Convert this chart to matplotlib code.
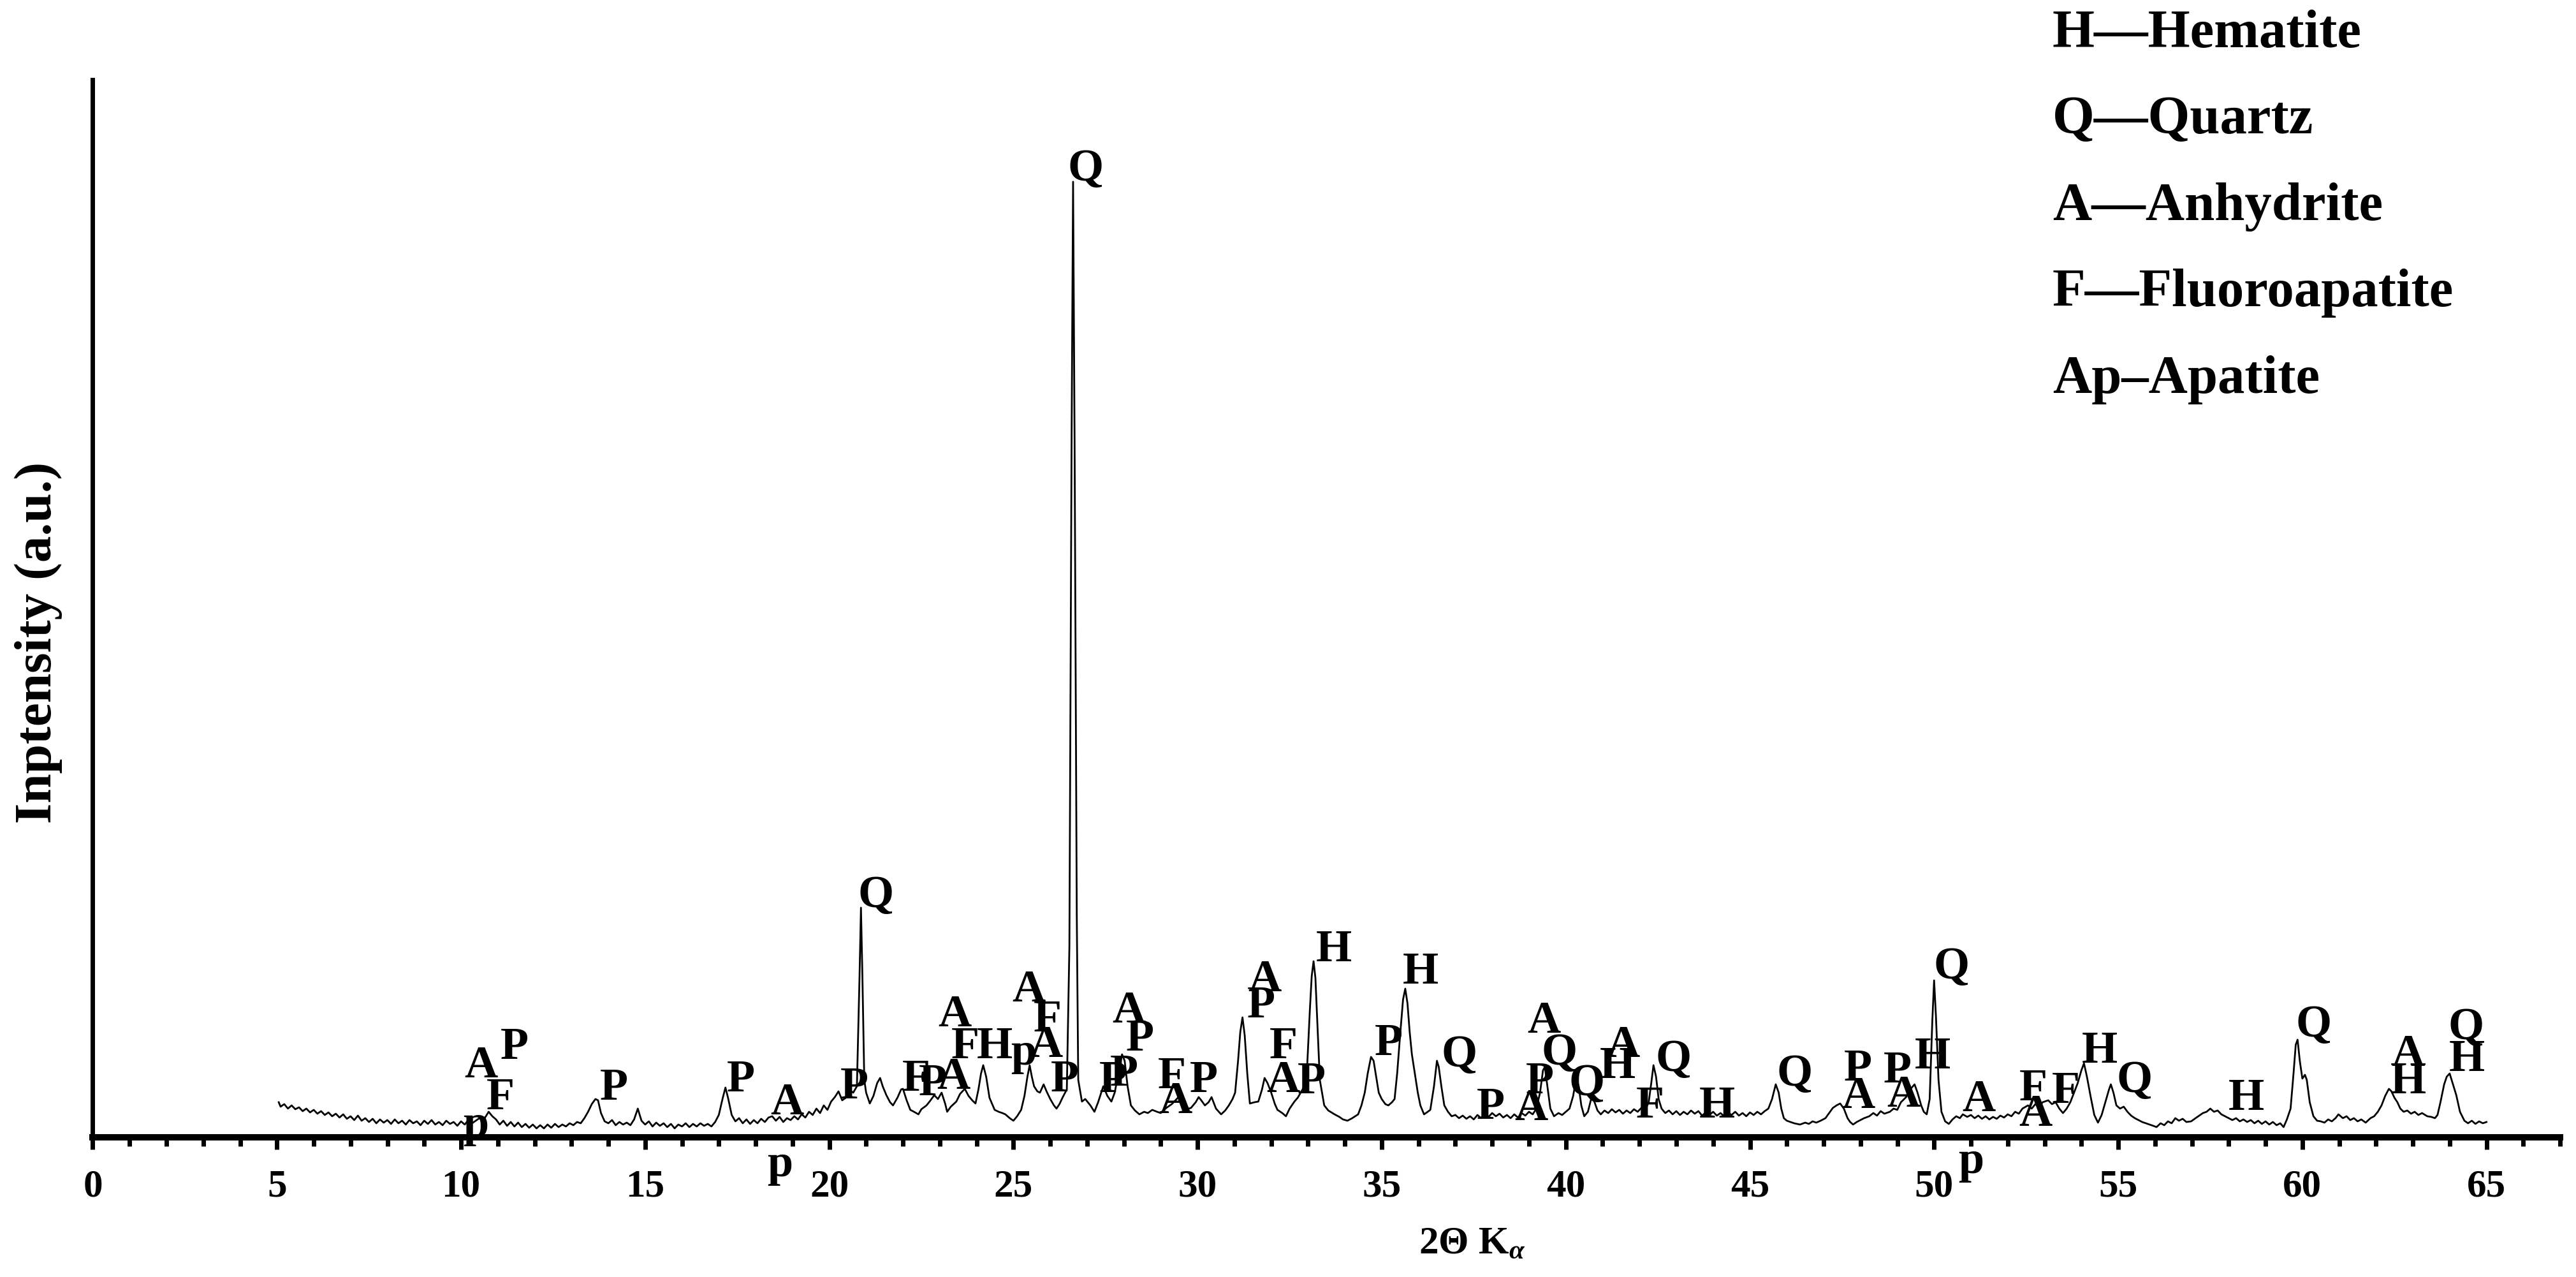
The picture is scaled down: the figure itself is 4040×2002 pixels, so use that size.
import matplotlib
matplotlib.use("Agg")
import matplotlib.pyplot as plt
from matplotlib.ticker import MultipleLocator

plt.rcParams['font.family'] = ['Liberation Serif', 'DejaVu Serif']
plt.rcParams['font.weight'] = 'bold'
plt.rcParams['mathtext.fontset'] = 'custom'
plt.rcParams['mathtext.rm'] = 'Liberation Serif:bold'
plt.rcParams['mathtext.it'] = 'Liberation Serif:bold:italic'
plt.rcParams['mathtext.bf'] = 'Liberation Serif:bold'

# XRD pattern: 2-theta (deg) and intensity (a.u.)
two_theta = [
    5.05, 5.1, 5.2, 5.3, 5.4, 5.5, 5.6, 5.7, 5.8, 5.9, 6.0, 6.1, 6.2, 6.3, 6.4, 6.5, 6.6, 6.7, 6.8, 6.9,
    7.0, 7.1, 7.2, 7.3, 7.4, 7.5, 7.6, 7.7, 7.8, 7.9, 8.0, 8.1, 8.2, 8.3, 8.4, 8.5, 8.6, 8.7, 8.8, 8.9,
    9.0, 9.1, 9.2, 9.3, 9.4, 9.5, 9.6, 9.7, 9.8, 9.9, 10.0, 10.1, 10.2, 10.3, 10.5, 10.6, 10.75, 10.85,
    10.95, 11.05, 11.15, 11.25, 11.35, 11.45, 11.55, 11.65, 11.75, 11.85, 11.95, 12.05, 12.15, 12.25,
    12.35, 12.45, 12.55, 12.65, 12.75, 12.85, 12.95, 13.05, 13.15, 13.25, 13.35, 13.45, 13.55, 13.65,
    13.72, 13.8, 13.9, 14.0, 14.1, 14.2, 14.3, 14.4, 14.5, 14.6, 14.7, 14.8, 14.9, 15.0, 15.1, 15.2,
    15.3, 15.4, 15.5, 15.6, 15.7, 15.8, 15.9, 16.0, 16.1, 16.2, 16.3, 16.4, 16.5, 16.6, 16.7, 16.8,
    16.9, 17.0, 17.1, 17.18, 17.25, 17.35, 17.45, 17.55, 17.65, 17.75, 17.85, 17.95, 18.05, 18.15,
    18.25, 18.35, 18.45, 18.55, 18.65, 18.75, 18.85, 18.95, 19.05, 19.15, 19.25, 19.35, 19.45, 19.55,
    19.65, 19.75, 19.85, 19.95, 20.05, 20.15, 20.25, 20.35, 20.45, 20.55, 20.65, 20.75, 20.82, 20.86,
    20.9, 20.95, 21.0, 21.1, 21.2, 21.3, 21.38, 21.45, 21.55, 21.65, 21.73, 21.85, 21.95, 22.0, 22.1,
    22.2, 22.3, 22.42, 22.5, 22.64, 22.75, 22.85, 22.95, 23.05, 23.15, 23.2, 23.3, 23.45, 23.55, 23.68,
    23.78, 23.88, 23.97, 24.05, 24.12, 24.18, 24.26, 24.35, 24.49, 24.6, 24.7, 24.78, 24.9, 25.0, 25.1,
    25.21, 25.3, 25.38, 25.44, 25.5, 25.56, 25.65, 25.72, 25.82, 25.9, 26.0, 26.1, 26.17, 26.25, 26.34,
    26.45, 26.52, 26.58, 26.62, 26.66, 26.72, 26.76, 26.86, 26.95, 27.09, 27.2, 27.3, 27.44, 27.55,
    27.66, 27.75, 27.85, 27.95, 28.02, 28.1, 28.19, 28.3, 28.42, 28.55, 28.65, 28.77, 28.9, 29.0, 29.15,
    29.3, 29.4, 29.48, 29.6, 29.7, 29.82, 29.95, 30.03, 30.1, 30.2, 30.3, 30.38, 30.5, 30.64, 30.75,
    30.85, 30.95, 31.02, 31.1, 31.16, 31.22, 31.28, 31.35, 31.42, 31.55, 31.65, 31.75, 31.82, 31.9,
    32.0, 32.1, 32.17, 32.3, 32.4, 32.5, 32.63, 32.72, 32.8, 32.9, 32.98, 33.05, 33.1, 33.15, 33.2,
    33.26, 33.32, 33.44, 33.55, 33.72, 33.85, 33.95, 34.07, 34.2, 34.36, 34.45, 34.54, 34.62, 34.71,
    34.78, 34.85, 34.92, 35.0, 35.1, 35.18, 35.28, 35.35, 35.42, 35.5, 35.58, 35.64, 35.7, 35.76, 35.82,
    35.9, 35.98, 36.05, 36.15, 36.25, 36.32, 36.42, 36.5, 36.55, 36.62, 36.7, 36.8, 36.9, 37.0, 37.1,
    37.2, 37.3, 37.4, 37.5, 37.6, 37.7, 37.8, 37.9, 38.0, 38.1, 38.2, 38.3, 38.4, 38.5, 38.6, 38.7,
    38.8, 38.9, 39.0, 39.1, 39.2, 39.3, 39.38, 39.43, 39.5, 39.58, 39.68, 39.8, 39.9, 40.0, 40.1, 40.2,
    40.28, 40.35, 40.42, 40.5, 40.6, 40.7, 40.78, 40.86, 40.95, 41.05, 41.15, 41.25, 41.35, 41.45,
    41.55, 41.65, 41.75, 41.85, 41.95, 42.05, 42.15, 42.25, 42.32, 42.38, 42.45, 42.52, 42.6, 42.7,
    42.8, 42.9, 43.0, 43.1, 43.2, 43.3, 43.4, 43.5, 43.6, 43.7, 43.8, 43.9, 44.0, 44.1, 44.2, 44.3,
    44.4, 44.5, 44.6, 44.7, 44.8, 44.9, 45.0, 45.1, 45.2, 45.3, 45.4, 45.5, 45.6, 45.7, 45.78, 45.85,
    45.92, 46.0, 46.1, 46.2, 46.36, 46.5, 46.6, 46.7, 46.8, 46.92, 47.05, 47.15, 47.25, 47.35, 47.45,
    47.55, 47.65, 47.72, 47.8, 47.9, 48.0, 48.1, 48.24, 48.35, 48.45, 48.55, 48.65, 48.8, 48.9, 49.0,
    49.1, 49.24, 49.35, 49.47, 49.55, 49.65, 49.72, 49.8, 49.88, 49.95, 50.0, 50.05, 50.12, 50.2, 50.3,
    50.4, 50.5, 50.6, 50.7, 50.78, 50.9, 51.0, 51.1, 51.2, 51.3, 51.4, 51.5, 51.6, 51.7, 51.8, 51.9,
    52.0, 52.1, 52.2, 52.3, 52.4, 52.55, 52.65, 52.75, 52.85, 52.95, 53.1, 53.2, 53.3, 53.4, 53.5,
    53.6, 53.7, 53.8, 53.9, 54.0, 54.07, 54.15, 54.25, 54.35, 54.45, 54.55, 54.65, 54.75, 54.8, 54.87,
    54.95, 55.05, 55.15, 55.25, 55.35, 55.45, 55.55, 55.65, 55.75, 55.85, 55.95, 56.04, 56.15, 56.25,
    56.35, 56.45, 56.55, 56.65, 56.75, 56.85, 56.98, 57.1, 57.2, 57.3, 57.4, 57.5, 57.6, 57.7, 57.8,
    57.9, 58.0, 58.1, 58.2, 58.3, 58.4, 58.5, 58.6, 58.7, 58.8, 58.9, 59.0, 59.1, 59.2, 59.3, 59.4,
    59.49, 59.58, 59.68, 59.76, 59.82, 59.87, 59.93, 60.0, 60.07, 60.12, 60.2, 60.3, 60.4, 60.5, 60.6,
    60.7, 60.8, 60.9, 60.98, 61.1, 61.2, 61.3, 61.4, 61.5, 61.6, 61.72, 61.85, 61.95, 62.05, 62.15,
    62.25, 62.35, 62.42, 62.5, 62.58, 62.66, 62.75, 62.85, 62.95, 63.05, 63.15, 63.25, 63.39, 63.5,
    63.6, 63.67, 63.75, 63.85, 63.92, 64.0, 64.08, 64.18, 64.28, 64.4, 64.5, 64.6, 64.7, 64.8, 64.9, 65.0,
]
intensity = [
    55, 48, 52, 45, 50, 44, 47, 41, 45, 39, 43, 37, 41, 35, 39, 33, 37, 31, 36, 29,
    33, 27, 34, 26, 30, 24, 29, 22, 28, 23, 27, 21, 28, 22, 26, 20, 27, 22, 25, 19,
    26, 21, 27, 20, 24, 19, 26, 21, 24, 18, 25, 20, 27, 22, 30, 26, 40, 33,
    28, 20, 26, 18, 24, 17, 23, 16, 21, 15, 20, 14, 19, 14,
    20, 15, 21, 16, 20, 17, 22, 19, 24, 22, 30, 40, 52, 60,
    58, 38, 25, 22, 27, 19, 24, 20, 23, 19, 28, 45, 26, 20, 25, 17,
    23, 18, 22, 16, 21, 14, 20, 17, 22, 16, 21, 17, 22, 18, 21, 17,
    24, 35, 60, 78, 62, 35, 25, 30, 22, 28, 21, 27, 22, 29,
    24, 31, 33, 26, 32, 24, 30, 27, 33, 28, 36, 31, 40, 35,
    45, 38, 50, 43, 56, 63, 72, 58, 62, 74, 70, 80, 250, 360,
    250, 90, 70, 53, 65, 85, 93, 80, 66, 55, 50, 62, 75, 76, 58,
    43, 40, 36, 44, 50, 58, 66, 60, 70, 52, 40, 48, 56, 68, 76,
    65, 58, 53, 75, 100, 113, 95, 62, 43, 40, 38, 36, 30, 26, 33,
    43, 65, 95, 113, 95, 80, 72, 70, 83, 72, 60, 50, 45, 52, 63,
    75, 300, 1100, 1498, 1100, 350, 90, 56, 60, 50, 40, 55, 80, 65,
    56, 70, 100, 130, 120, 80, 50, 42, 36, 40, 38, 43, 40, 38, 46,
    52, 58, 63, 50, 44, 46, 55, 63, 58, 50, 55, 63, 45, 36, 42,
    50, 60, 70, 120, 165, 188, 160, 100, 53, 55, 56, 75, 93, 85,
    70, 52, 43, 38, 33, 45, 56, 62, 70, 80, 116, 200, 253, 276, 250,
    170, 90, 50, 42, 36, 32, 28, 26, 30, 36, 50, 70, 100, 126,
    120, 95, 70, 60, 52, 50, 55, 60, 100, 160, 216, 233, 210, 165, 130,
    100, 70, 50, 36, 40, 43, 80, 120, 110, 80, 50, 40, 33, 35, 30,
    34, 29, 33, 28, 35, 30, 36, 32, 38, 33, 37, 31, 35, 30, 36, 31,
    38, 34, 40, 36, 45, 70, 105, 110, 80, 45, 33, 38, 35, 40, 45, 65,
    93, 80, 50, 33, 40, 63, 55, 42, 36, 42, 38, 44, 39, 43,
    37, 42, 38, 44, 40, 46, 42, 55, 85, 113, 95, 60, 45, 38,
    42, 36, 41, 35, 40, 36, 42, 37, 41, 34, 39, 35, 40, 34, 38, 33,
    39, 35, 40, 34, 38, 33, 39, 35, 40, 36, 41, 45, 60, 83, 70, 45,
    30, 26, 24, 22, 20, 23, 21, 25, 23, 26, 30, 38, 46, 50, 53,
    45, 30, 24, 20, 24, 27, 30, 33, 38, 34, 41, 37, 40, 45, 43,
    55, 63, 75, 83, 70, 50, 40, 36, 60, 180, 246, 190, 90, 40, 25,
    21, 28, 33, 30, 36, 32, 35, 30, 34, 29, 33, 28, 32, 29, 34, 31,
    36, 33, 40, 37, 45, 50, 45, 52, 48, 55, 58, 52, 55, 45, 38,
    45, 55, 70, 85, 105, 116, 95, 64, 35, 23, 35, 55, 75, 83, 70,
    50, 45, 48, 40, 34, 30, 27, 24, 22, 20, 18, 16, 22, 19,
    25, 22, 30, 26, 29, 24, 25, 30, 34, 38, 40, 45, 40, 42, 36,
    33, 30, 27, 30, 25, 28, 24, 27, 22, 26, 21, 25, 20, 24, 19, 22,
    16, 28, 45, 100, 145, 153, 120, 92, 98, 90, 55, 33, 26, 25, 23,
    28, 25, 30, 36, 30, 33, 27, 30, 25, 28, 23, 30, 33, 40, 50,
    65, 76, 72, 62, 55, 45, 40, 42, 37, 40, 35, 38, 33, 32,
    30, 35, 55, 83, 95, 100, 85, 66, 40, 26, 22, 26, 21, 25, 22, 24,
]

# phase labels placed over the peaks (letter, 2-theta, intensity)
peak_text = ['A', 'P', 'F', 'p', 'P', 'P', 'A', 'p', 'P', 'Q',
             'F', 'P', 'A', 'A', 'F', 'H', 'p', 'A', 'F', 'A',
             'P', 'Q', 'P', 'P', 'A', 'P', 'F', 'A', 'P', 'A',
             'P', 'F', 'A', 'P', 'H', 'P', 'H', 'Q', 'P', 'A',
             'A', 'P', 'Q', 'Q', 'H', 'A', 'Q', 'F', 'H', 'Q',
             'P', 'A', 'P', 'A', 'H', 'Q', 'p', 'A', 'F', 'A',
             'F', 'H', 'Q', 'H', 'Q', 'A', 'H', 'Q', 'H']
peak_x = [10.54, 11.45, 11.07, 10.40, 14.16, 17.60, 18.85, 18.66, 20.68, 21.26,
          22.36, 22.81, 23.37, 23.40, 23.70, 24.49, 25.27, 25.88, 25.93, 25.41,
          26.40, 26.96, 27.70, 28.01, 28.13, 28.43, 29.31, 29.40, 30.17, 31.82,
          31.73, 32.34, 32.32, 33.10, 33.70, 35.19, 36.06, 37.10, 37.96, 39.06,
          39.40, 39.30, 39.82, 40.56, 41.40, 41.55, 42.93, 42.28, 44.10, 46.22,
          47.94, 47.94, 49.00, 49.17, 49.95, 50.47, 51.00, 51.21, 52.70, 52.75,
          53.58, 54.50, 55.45, 58.47, 60.30, 62.87, 62.88, 64.44, 64.46]
peak_y = [111, 140, 61, 18, 76, 89, 53, -44, 78, 378,
          90, 83, 93, 191, 141, 141, 131, 143, 183, 230,
          89, 1517, 88, 98, 197, 153, 94, 55, 88, 246,
          205, 141, 88, 86, 293, 146, 258, 128, 46, 44,
          181, 86, 131, 83, 110, 143, 121, 48, 48, 98,
          106, 63, 103, 65, 125, 266, -39, 58, 75, 35,
          71, 134, 88, 60, 175, 129, 86, 171, 121]

legend_lines = ['H\u2014Hematite', 'Q\u2014Quartz', 'A\u2014Anhydrite',
                'F\u2014Fluoroapatite', 'Ap\u2013Apatite']

x_ticks = list(range(0, 70, 5))

fig = plt.figure(figsize=(40.41, 20.02), dpi=100)
ax = fig.add_axes([0.036, 0.1094, 0.9576, 0.8282])

ax.plot(two_theta, intensity, color='black', linewidth=2.0)

for t, px, py in zip(peak_text, peak_x, peak_y):
    ax.text(px, py, t, fontsize=52, fontweight='bold', ha='center', va='center',
            clip_on=False)

ax.set_xlim(0, 67)
ax.set_ylim(0, 1658)
ax.set_xticks(x_ticks)
ax.xaxis.set_minor_locator(MultipleLocator(1))
ax.set_yticks([])
ax.tick_params(axis='x', which='major', direction='out', length=14, width=5,
               labelsize=44, pad=22)
ax.tick_params(axis='x', which='minor', direction='out', length=10, width=5)
for lab in ax.get_xticklabels():
    lab.set_fontweight('bold')

ax.spines['top'].set_visible(False)
ax.spines['right'].set_visible(False)
ax.spines['left'].set_linewidth(5)
ax.spines['bottom'].set_linewidth(7.2)

fig.text(2309 / 4041, 1 - 1950 / 2002, '2\u0398 K$_{\\alpha}$', fontsize=44,
         fontweight='bold', ha='center', va='center')
fig.text(60 / 4041, 1 - 1007 / 2002, 'Inptensity (a.u.)', fontsize=60,
         fontweight='bold', rotation=90, ha='center', va='center')

for i, line in enumerate(legend_lines):
    fig.text(3219 / 4041, (2002 - 74 - 135.5 * i) / 2002, line, fontsize=61,
             fontweight='bold', ha='left', va='baseline')

fig.savefig('out.png', dpi=100)
